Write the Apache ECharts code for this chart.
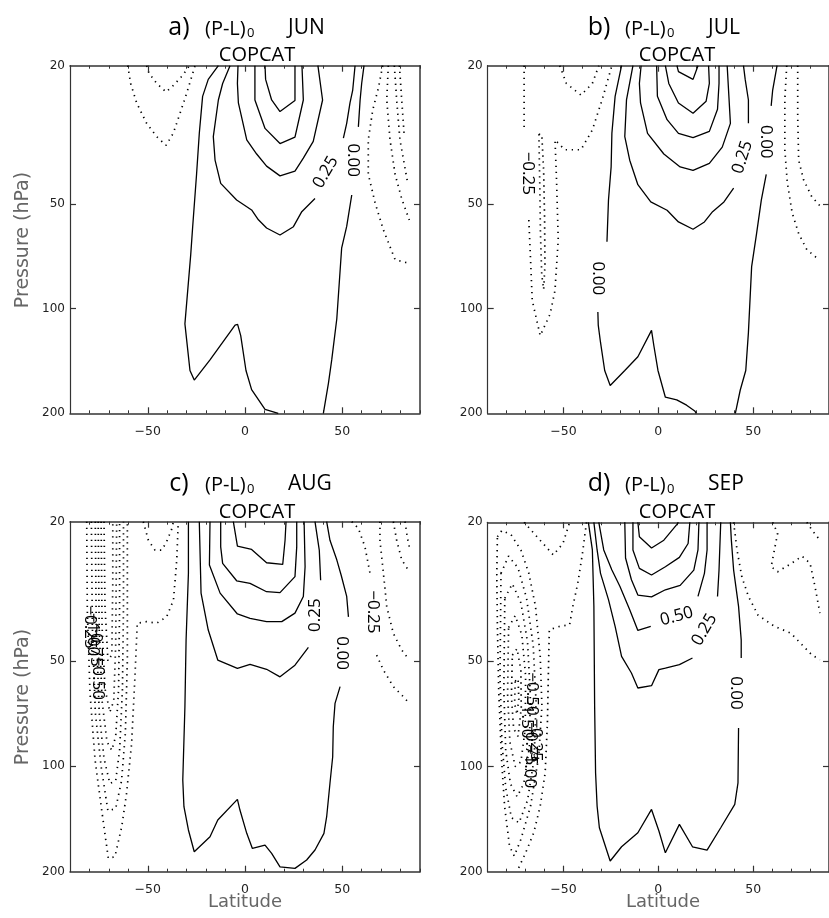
<!DOCTYPE html>
<html><head><meta charset="utf-8">
<script src="https://cdn.jsdelivr.net/npm/echarts@6/dist/echarts.min.js"></script>
<style>html,body{margin:0;padding:0;background:#fff}#c{width:829px;height:918px}</style>
</head><body><div id="c"></div>
<script>
// ---------- axis / text data ----------
const letters = ['a)', 'b)', 'c)', 'd)'];
const months = ['JUN', 'JUL', 'AUG', 'SEP'];
const xTickLabels = [-50, 0, 50];
const yTickLabels = [20, 50, 100, 200];
const yTickMarks = [50, 100];

// ---------- contour polylines: [latitude, pressure hPa] ----------
// Panel a (JUN)
const aSolid = [
  [[-13.7,20],[-18.9,21.9],[-21.8,24.5],[-23.5,31.3],[-24.9,41],[-26.9,58],[-27.9,69.8],[-30.9,110.6],[-28.3,150.6],[-26.1,160.5],[-18,140.4],[-5.1,111.5],[-3.8,111],[-2.2,119.6],[0.5,150.6],[3.4,171],[10.3,195],[17.1,200]],
  [[40.3,200],[42.9,164],[44.6,140.4],[47.2,107.1],[49.7,67],[52.3,58],[54.9,47.1]],
  [[58.3,30],[59.2,25.1],[60,22.5],[61.2,20]],
  [[-7.7,20],[-11.5,22.5],[-13.7,25.1],[-16.3,32],[-15.4,37.4],[-12.5,43.6],[-4.3,48.7],[3.4,52],[6.9,55.5],[11.1,58.6],[18,61.4],[24.9,58.1],[29.2,52.6],[36,48.2]],
  [[50.6,32.3],[52.3,29.3],[54,25.6],[55.4,23.5],[56.6,20]],
  [[-3.6,20],[-3.9,22.5],[-3.4,25.6],[0.9,32.7],[6,35.9],[11.1,38.9],[18,41.5],[25.7,40.2],[30,36.9],[35.1,33],[39.9,25.1],[37.5,20]],
  [[5.1,20],[5.1,25.1],[10.3,30.3],[18,33.5],[25.7,32.1],[30,25.1],[29.3,20]],
  [[10.3,20],[10.6,21.9],[13.7,25.1],[18,27.1],[25.7,25.2],[25.7,20]]
];
const aDotted = [
  [[70.8,20],[68.6,23.2],[65.7,26.8],[63.4,32.7],[63.4,41],[66.9,49.6],[71.2,59.4],[77.2,72.3],[84.5,74.1]],
  [[73.7,20],[72.9,25.1],[74.6,32.7],[77.2,41.1],[80.6,48.3],[84.5,55.6]],
  [[76.8,20],[78,25.1],[79.7,32.7],[83.5,43]],
  [[79.4,20],[80.6,25.1],[81.8,31.2]],
  [[-50.6,20],[-49.4,21],[-45.4,22.5],[-40.6,23.8],[-36.5,22.7],[-32,21.3],[-28.6,20]],
  [[-60.3,20],[-58.8,22.5],[-55.7,25.6],[-50.6,29.3],[-45.4,32],[-40.6,33.9],[-36.9,31.3],[-33.4,27.4],[-30,24],[-27.4,21.5],[-25.7,20]]
];
const aLabels = [['0.25',41.5,40.5,60],['0.00',55.7,37.4,-90]];

// Panel b (JUL)
const bSolid = [
  [[-19.4,20],[-22.8,24.5],[-24.5,31.3],[-24.9,39.1],[-26.3,48.7],[-27.1,64.2]],
  [[-31.9,102.3],[-31.7,111.5],[-30.5,125.1],[-28.3,150.6],[-25.4,166.4],[-17.7,150.6],[-10.8,137.5],[-3.6,115.5],[-2.3,128.5],[-0.2,150.6],[3.7,179.8],[9.7,183],[14.9,189.5],[19.2,196.9],[20,200]],
  [[40.6,200],[43.2,171.4],[46.1,150.6],[47.5,117.2],[49.2,75.7],[51.8,60.8],[54.3,48.7],[56.9,41.1]],
  [[59.5,26.1],[60.3,23.5],[62.6,20]],
  [[-13.4,20],[-16.8,25.1],[-17.7,32],[-15.1,37.4],[-10.8,44],[-4,49.3],[4.6,52.1],[10.6,56.3],[18.3,59.1],[24.3,56.3],[28.6,52.6],[34.6,49.3],[39.7,45]],
  [[47.5,29.3],[47.5,25.1],[45.8,21.9],[44.9,20]],
  [[-9.1,20],[-10,22.5],[-9.4,25.6],[-5.7,31.3],[2.9,35.9],[11.5,39.1],[18.3,40],[26.9,38.2],[33.7,34.3],[38,29.3],[37.2,24.5],[36.3,20]],
  [[-0.9,20],[-0.5,24.5],[4.6,28.6],[10.6,31.3],[18.3,32.2],[26.9,30.9],[31.2,26.7],[32,22.5],[32,20]],
  [[3.7,20],[5.5,22.5],[10.6,25.6],[18.3,27.4],[25.2,25.3],[26.9,22.5],[26.5,20]],
  [[9.8,20],[10.6,20.8],[18.3,21.9],[20.9,20]]
];
const bDotted = [
  [[-70.8,20],[-70.8,30]],
  [[-68.3,55.6],[-67.4,72.3],[-66.5,94.7],[-62.3,119.6],[-57.1,103.7],[-54.5,88.6],[-52.8,63.4],[-53.7,42.6],[-54.5,32.7],[-49.4,34.9],[-40.8,34.9],[-34.8,30.6],[-29.7,25.1],[-24.5,20]],
  [[-63,31.5],[-62.5,45],[-62.2,60],[-61.5,80],[-60.5,88],[-59.8,75],[-60,55],[-60.5,40],[-61.5,31.5],[-63,31.5]],
  [[-52,20],[-48.5,22.5],[-40.8,24.3],[-34.8,22.5],[-31.4,20]],
  [[67.7,20],[66.7,25.1],[66.7,34.9],[68,43.3],[70.6,53.1],[74,60.8],[78.3,67.6],[84.3,72]],
  [[73.5,20],[73.5,28.1],[74,37.4],[76.6,42.6],[80.9,47.6],[85.2,50.6]]
];
const bLabels = [['\u22120.25',-68.8,40.8,-90],['0.00',-31.7,81.8,-90],['0.25',44.4,36.7,72],['0.00',56.9,33.1,-90]];

// Panel c (AUG)
const cSolid = [
  [[-29.1,20],[-29.1,28.1],[-30.3,43.6],[-30.9,67.6],[-32,109.4],[-31.4,130.4],[-29.1,152],[-26.1,175.4],[-18,158.9],[-14,142.4],[-3.9,124.3],[-2.6,133.3],[0.9,155.4],[3.8,171.6],[10.3,167.9],[13.7,177.3],[18,193.7],[25.7,195.7],[31.7,185.2],[36,173.4],[40.6,155.4],[42,139.3],[43.7,111.8],[45.1,93.9],[45.4,77.1],[46.3,66.1],[48.9,59.2]],
  [[53.2,37.4],[52.3,32.7],[49.5,28.5],[47.2,25.7],[43.7,22.6],[42,20]],
  [[-23.5,20],[-22.6,32],[-18.9,40.8],[-14,49.7],[-3.9,52.5],[2.6,51.1],[11.1,52.8],[18,55.5],[25.7,51.4],[32.6,45.7]],
  [[38.9,29.4],[38.2,24.1],[36,20]],
  [[-18,20],[-18.3,26.6],[-12.8,32],[-3.9,36.7],[2.6,37.8],[11.1,38.6],[18.9,38.6],[25.7,36.5],[30,32.7],[30.9,26.9],[30.4,20]],
  [[-12.5,20],[-12.5,23.6],[-11.5,26.3],[-4.3,29.5],[2.6,30],[11.1,31.7],[18,31.9],[25.7,28.7],[26.6,23.6],[26.6,20]],
  [[-6,20],[-3.9,23.5],[3.4,24],[11.1,26.2],[19.4,26.5],[20.6,22.6],[21.1,20]]
];
const cDotted = [
  [[-81.4,20],[-81.1,35.8],[-79.7,61.9],[-77.1,96],[-73.7,133.3],[-70.3,183.2],[-66.9,181.2],[-63.4,148.8],[-60.9,119.4],[-58.3,86],[-56.6,55.5],[-55.4,39],[-50.6,38.6],[-45.4,39],[-40.3,37.4],[-36.8,33.5],[-35.1,25.7],[-34.3,20]],
  [[-52.3,20],[-49.7,22.6],[-46.3,24.1],[-42.8,24.1],[-40.3,22.8],[-37.7,21],[-36.8,20]],
  [[-79,20],[-78.5,40],[-77,70],[-74,100],[-70.5,134],[-66.5,132],[-63.5,110],[-61.5,80],[-60.5,50],[-60.5,20]],
  [[-77,20],[-76.5,40],[-75,70],[-72.5,95],[-69.5,112],[-66.5,110],[-64.5,90],[-63,60],[-62.5,35],[-62.5,20]],
  [[-75.5,20],[-75,40],[-73.5,65],[-71,85],[-68.5,90],[-66.5,82],[-65,60],[-64.5,35],[-64.5,20]],
  [[-74,20],[-73.5,40],[-72,60],[-69.5,70],[-67.5,65],[-66.5,45],[-66,20]],
  [[-72.5,20],[-72,35],[-70.5,50],[-68.5,48],[-68,30],[-68,20]],
  [[54.9,20],[58.3,20.9],[61.7,23.6],[64.3,28.1]],
  [[67.7,48.1],[71.2,53.1],[76.3,59.2],[81.4,63.2],[84.5,66.1]],
  [[69.4,20],[69.4,22.6],[71.2,28.1],[72.9,35],[76.3,41.7],[80.6,46.5],[84.5,49.7]],
  [[76.3,20],[78,22.6],[80.6,25.7],[84,27.5]],
  [[82.3,20],[83.5,22.2],[84.5,23.6]]
];
const cLabels = [['0.25',36,37,90],['0.00',49.7,47.5,-90],['\u22120.25',66,36.2,-90],
  ['\u22120.25',-80,40,-90],['\u22121.00',-78,42,-90],['\u22120.75',-76.8,45,-90],['\u22120.50',-75.5,56,-90]];

// Panel d (SEP)
const dSolid = [
  [[-36.9,20],[-34.8,24],[-34,34.8],[-33.6,67.3],[-33.1,104.3],[-32.3,129.8],[-31.1,149.7],[-25.4,186.4],[-19.4,169.7],[-10.8,154.7],[-3.6,132.7],[0.3,153],[3.7,176.6],[11.1,146.4],[18,169.7],[25.7,173.4],[32.9,149.7],[40.3,128.4],[42,111.4],[42.3,77.6]],
  [[43.7,48.9],[43.7,43.4],[42.3,34.8],[39.7,27.4],[38.5,22.5],[38,20]],
  [[-34,20],[-32.3,24],[-30.5,28],[-26.3,33.3],[-22.8,39.7],[-19.4,48.4],[-14.2,54],[-10.8,59.6],[-3.6,58.7],[0.3,52.8],[3.7,52.3],[11.1,51.1],[18,48.9]],
  [[31.2,32.6],[32,27.4],[32.9,20]],
  [[-31.4,20],[-28.8,24],[-24.5,27.4],[-20.3,30.5],[-15.1,35.6],[-10.8,40.8],[-4,39.7]],
  [[20.9,32.6],[24.3,28],[25.7,24],[25.7,20]],
  [[-17.7,20],[-17.3,25.3],[-14.2,29.2],[-10.8,32.3],[-3.6,32.7],[3.7,31.2],[11.5,30.3],[18.7,27.4],[20.9,24],[21.4,20]],
  [[-13.4,20],[-13.4,24],[-10,27.1],[-3.6,28.3],[3.7,26.8],[11.1,25.2],[15.7,23],[16.6,20]],
  [[-10.8,20],[-10,22],[-3.6,23.7],[2.9,22.5],[9.7,20.3],[10.6,20]]
];
const dDotted = [
  [[-37.9,20],[-40,24.5],[-42.5,29.9],[-45.1,34.8],[-46.8,39.3],[-52,39.7],[-57.5,40.6],[-58,54],[-58.5,74.7],[-59.7,104.3],[-62.3,129.8],[-65.7,154.7],[-70,176.6],[-74.6,200]],
  [[-70.8,20],[-64,22],[-55.4,24.8],[-50.3,23],[-46.8,20]],
  [[-84.9,22],[-82.5,21.1],[-77.7,21.7],[-72.5,24],[-68.3,28],[-64.8,34.8],[-62.3,48.4],[-61.4,67.3],[-63.1,93.5],[-67.4,129.8],[-72.5,161.7],[-76,180.4],[-78.5,168.9],[-81.1,129.8],[-82.8,93.5],[-84.2,60.3],[-84.9,38.9],[-85.2,28],[-84.9,22]],
  [[-83,28],[-79,25],[-74,27],[-69.5,33],[-66,45],[-64.5,65],[-65.5,95],[-69,125],[-73.5,145],[-77.5,140],[-80.5,115],[-82.5,85],[-83.5,55],[-83,28]],
  [[-81,33],[-77,30],[-72.5,34],[-69,44],[-67.5,62],[-68,88],[-71,112],[-74.5,122],[-78,112],[-80.5,90],[-81.5,60],[-81,33]],
  [[-79,40],[-75.5,37],[-72,42],[-70,55],[-70.2,78],[-72.5,97],[-75.5,100],[-78.3,85],[-79.5,62],[-79,40]],
  [[-77,48],[-74.5,46],[-72.5,53],[-72.3,68],[-74,82],[-76.3,78],[-77.5,63],[-77,48]],
  [[-75.5,57],[-74,56],[-73.6,64],[-74.6,71],[-75.8,66],[-75.5,57]],
  [[39.7,20],[41.5,24],[44,28.6],[47.5,32.6],[52.6,36.9],[61.2,39.7],[69.8,41.5],[76.6,45.3],[80.9,47.9],[85.2,49.5]],
  [[60.3,20],[62.9,21.5],[61.2,24],[59.5,26.8],[62.9,27.7],[69.8,26.3],[75.8,25],[80,26.2],[82.6,30.5],[85.2,36.4]],
  [[78.3,20],[80.9,21],[85.2,22.5]]
];
const dLabels = [['0.50',9.7,37.2,15],['0.25',24.3,40.6,60],['0.00',41.1,61.6,-90],
  ['\u22120.50',-66.5,62,-90],['\u22121.50',-69.5,72,-90],['\u22120.75',-67.5,86,-90],['\u22120.25',-64.5,84,-90],['\u22121.00',-68,100,-90]];

// ---------- build ----------
const solids = [aSolid, bSolid, cSolid, dSolid];
const dotteds = [aDotted, bDotted, cDotted, dDotted];
const labelSets = [aLabels, bLabels, cLabels, dLabels];

const grids = [
  {left: 70, top: 65.7, width: 350, height: 347.6},
  {left: 487.7, top: 65.7, width: 350, height: 347.6},
  {left: 70, top: 521.7, width: 350, height: 350},
  {left: 487.7, top: 522.3, width: 350, height: 349.4}
];
const L = v => Math.log10(v);
const AX = '#333';
const xAxes = [], yAxes = [], series = [];
const fmtX = v => (v < 0 ? '\u2212' + (-v) : String(v));

grids.forEach((g, i) => {
  const common = {gridIndex: i, type: 'value', min: -90, max: 90, splitLine: {show: false}};
  xAxes.push(Object.assign({}, common, {position: 'bottom',
    axisLine: {show: true, onZero: false, lineStyle: {color: AX, width: 1.5}},
    axisTick: {show: true, inside: true, length: 6, customValues: xTickLabels, lineStyle: {color: AX, width: 1.2}},
    axisLabel: {show: true, customValues: xTickLabels, formatter: fmtX, margin: 12, color: '#222', fontSize: 12.5, fontFamily: 'DejaVu Sans'}}));
  xAxes.push(Object.assign({}, common, {position: 'bottom', interval: 10,
    axisLine: {show: false, onZero: false}, axisTick: {show: true, inside: true, length: 3, lineStyle: {color: AX}},
    axisLabel: {show: false}}));
  xAxes.push(Object.assign({}, common, {position: 'top',
    axisLine: {show: true, onZero: false, lineStyle: {color: AX, width: 1.5}},
    axisTick: {show: true, inside: true, length: 6, customValues: xTickLabels, lineStyle: {color: AX, width: 1.2}},
    axisLabel: {show: false}}));
  xAxes.push(Object.assign({}, common, {position: 'top', interval: 10,
    axisLine: {show: false, onZero: false}, axisTick: {show: true, inside: true, length: 3, lineStyle: {color: AX}},
    axisLabel: {show: false}}));
  const yc = {gridIndex: i, type: 'value', min: L(20), max: L(200), inverse: true, splitLine: {show: false}};
  yAxes.push(Object.assign({}, yc, {position: 'left',
    axisLine: {show: true, onZero: false, lineStyle: {color: AX, width: 1.2}},
    axisTick: {show: true, inside: true, length: 6, customValues: yTickMarks.map(L), lineStyle: {color: AX, width: 1.2}},
    axisLabel: {show: true, customValues: yTickLabels.map(L), formatter: v => String(Math.round(Math.pow(10, v))), margin: 5, color: '#222', fontSize: 12, fontFamily: 'DejaVu Sans'}}));
  yAxes.push(Object.assign({}, yc, {position: 'right',
    axisLine: {show: true, onZero: false, lineStyle: {color: AX, width: 1.5}},
    axisTick: {show: true, inside: true, length: 6, customValues: yTickMarks.map(L), lineStyle: {color: AX, width: 1.2}},
    axisLabel: {show: false}}));

  const mk = (pts, dotted) => ({
    type: 'line', xAxisIndex: i * 4, yAxisIndex: i * 2, silent: true, animation: false,
    symbol: 'none', clip: true,
    data: pts.map(p => [p[0], L(p[1])]),
    lineStyle: dotted ? {color: '#000', width: 1.7, type: [1.3, 4.7], cap: 'butt'} : {color: '#000', width: 1.3}
  });
  solids[i].forEach(p => series.push(mk(p, false)));
  dotteds[i].forEach(p => series.push(mk(p, true)));
});

const chart = echarts.init(document.getElementById('c'), null, {renderer: 'canvas'});
chart.setOption({
  animation: false,
  backgroundColor: '#fff',
  grid: grids.map(g => Object.assign({containLabel: false}, g)),
  xAxis: xAxes, yAxis: yAxes, series: series
});

// titles and texts
const graphic = [];
const offs = [[0, 0], [420, 0], [0, 456], [420, 456]];
offs.forEach((o, i) => {
  const [dx, dy] = o;
  graphic.push({type: 'text', x: 179 + dx, y: 28 + dy, style: {text: letters[i], font: '25px "Open Sans"', fill: '#000', align: 'center', verticalAlign: 'middle'}});
  graphic.push({type: 'text', x: 205 + dx, y: 29 + dy, style: {text: '(P-L)', font: '20px "Open Sans"', fill: '#000', align: 'left', verticalAlign: 'middle'}});
  graphic.push({type: 'text', x: 247 + dx, y: 33 + dy, style: {text: '0', font: '13px "Open Sans"', fill: '#000', align: 'left', verticalAlign: 'middle'}});
  graphic.push({type: 'text', x: 288 + dx, y: 28 + dy, style: {text: months[i], font: '21px "Open Sans"', fill: '#000', align: 'left', verticalAlign: 'middle'}});
  graphic.push({type: 'text', x: 257 + dx, y: 55 + dy + (i > 1 ? 1 : 0), style: {text: 'COPCAT', font: '20px "Open Sans"', fill: '#000', align: 'center', verticalAlign: 'middle'}});
});
[240, 697].forEach(y => graphic.push({type: 'text', x: 23, y: y, rotation: Math.PI / 2,
  style: {text: 'Pressure (hPa)', font: '19px "DejaVu Sans"', fill: '#666', align: 'center', verticalAlign: 'middle'}}));
[245, 663].forEach(x => graphic.push({type: 'text', x: x, y: 902,
  style: {text: 'Latitude', font: '18px "DejaVu Sans"', fill: '#666', align: 'center', verticalAlign: 'middle'}}));

// contour labels positioned through the axes' scales
labelSets.forEach((set, i) => {
  set.forEach(l => {
    const px = chart.convertToPixel({xAxisIndex: i * 4, yAxisIndex: i * 2}, [l[1], L(l[2])]);
    graphic.push({type: 'text', x: px[0], y: px[1], rotation: l[3] * Math.PI / 180,
      style: {text: l[0], font: '17px "Open Sans"', fill: '#000', align: 'center', verticalAlign: 'middle'}});
  });
});
chart.setOption({graphic: graphic});
</script></body></html>
